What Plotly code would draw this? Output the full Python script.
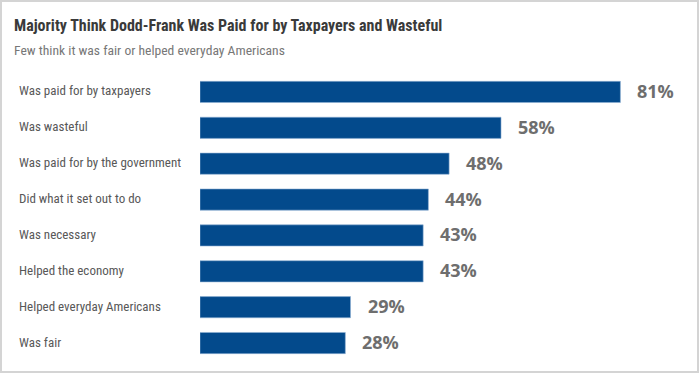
import plotly.graph_objects as go

categories = [
    "Was paid for by taxpayers",
    "Was wasteful",
    "Was paid for by the government",
    "Did what it set out to do",
    "Was necessary",
    "Helped the economy",
    "Helped everyday Americans",
    "Was fair",
]
values = [81, 58, 48, 44, 43, 43, 29, 28]
value_labels = [f"{v}%" for v in values]

title_text = "Majority Think Dodd-Frank Was Paid for by Taxpayers and Wasteful"
subtitle_text = "Few think it was fair or helped everyday Americans"

W, H = 700, 374
ML, MR, MT, MB = 200, 20, 74, 13
PW = W - ML - MR
PH = H - MT - MB
PX_PER_UNIT = 5.19
XMAX = PW / PX_PER_UNIT

COND = "Liberation Sans Narrow, Arial Narrow, Roboto Condensed, sans-serif"

fig = go.Figure()
fig.add_trace(go.Bar(
    x=values,
    y=categories,
    orientation="h",
    marker=dict(color="#034a8c", line=dict(color="#8fb0d3", width=0.6)),
    hoverinfo="skip",
))

annotations = []
for c, v, t in zip(categories, values, value_labels):
    annotations.append(dict(
        x=v, y=c, xref="x", yref="y", text=t, showarrow=False,
        xanchor="left", yanchor="middle", xshift=15, yshift=1,
        font=dict(family="Open Sans, sans-serif", size=18, color="#6e6e6e", weight="bold"),
    ))
    annotations.append(dict(
        x=(17 - ML) / PW, y=c, xref="paper", yref="y", text=c, showarrow=False,
        xanchor="left", yanchor="middle", yshift=1,
        font=dict(family=COND, size=13, color="#585858"),
    ))

annotations.append(dict(
    x=(12 - ML) / PW, y=1 + (MT - 25) / PH, xref="paper", yref="paper",
    text=f"<b>{title_text}</b>", showarrow=False, xanchor="left", yanchor="middle",
    font=dict(family=COND, size=16, color="#3a3a3a"),
))
annotations.append(dict(
    x=(12 - ML) / PW, y=1 + (MT - 50) / PH, xref="paper", yref="paper",
    text=subtitle_text, showarrow=False, xanchor="left", yanchor="middle",
    font=dict(family=COND, size=13.6, color="#777777"),
))

fig.update_layout(
    width=W, height=H,
    margin=dict(l=ML, r=MR, t=MT, b=MB, pad=0),
    paper_bgcolor="white", plot_bgcolor="white",
    showlegend=False,
    bargap=0.41,
    xaxis=dict(range=[0, XMAX], visible=False, fixedrange=True),
    yaxis=dict(autorange="reversed", showticklabels=False, showgrid=False,
               zeroline=False, showline=False, ticks="", fixedrange=True),
    annotations=annotations,
    shapes=[dict(
        type="rect", xref="paper", yref="paper",
        x0=(1 - ML) / PW, x1=(698 - ML) / PW,
        y0=1 - (372 - MT) / PH, y1=1 + (MT - 1) / PH,
        line=dict(color="#d4d4d4", width=2), fillcolor="rgba(0,0,0,0)", layer="below",
    )],
)

fig.write_html(
    "out.html",
    config={"displayModeBar": False},
    post_script="document.body.style.margin='0';document.body.style.overflow='hidden';",
)
